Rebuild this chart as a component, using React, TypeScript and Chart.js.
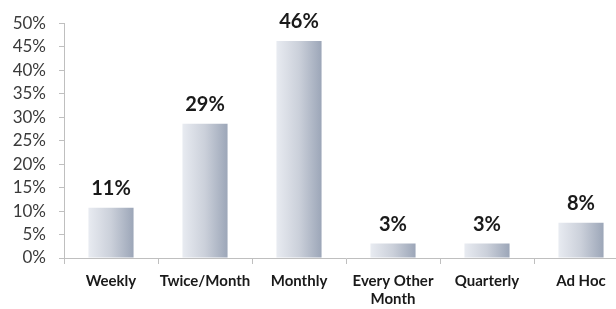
import React, { useEffect, useRef } from "react";
import { Chart, registerables } from "chart.js";

Chart.register(...registerables);

const categories: (string | string[])[] = ["Weekly", "Twice/Month", "Monthly", ["Every Other", "Month"], "Quarterly", "Ad Hoc"];
const values: number[] = [10.7, 28.6, 46.2, 3.1, 3.1, 7.5];
const valueLabels: string[] = ["11%", "29%", "46%", "3%", "3%", "8%"];
const yTicks: number[] = [0, 5, 10, 15, 20, 25, 30, 35, 40, 45, 50];

const BAR_PCT = 0.48;

const labelPlugin = {
  id: "valueLabels",
  afterDatasetsDraw(chart: any) {
    const ctx = chart.ctx;
    const meta = chart.getDatasetMeta(0);
    ctx.save();
    ctx.font = "bold 20px Lato";
    ctx.fillStyle = "#1a1a1a";
    ctx.textAlign = "center";
    ctx.textBaseline = "bottom";
    meta.data.forEach((bar: any, i: number) => {
      ctx.fillText(valueLabels[i], bar.x, bar.y - 9);
    });
    ctx.restore();
  },
};

export default function App() {
  const ref = useRef<HTMLCanvasElement>(null);
  useEffect(() => {
    if (!ref.current) return;
    const chart = new Chart(ref.current, {
      type: "bar",
      data: {
        labels: categories,
        datasets: [
          {
            data: values,
            barPercentage: BAR_PCT,
            categoryPercentage: 1,
            backgroundColor: (c: any) => {
              const ch = c.chart;
              const xs = ch.scales?.x;
              const area = ch.chartArea;
              if (!xs || !area) return "#c4cad6";
              const cx = xs.getPixelForValue(c.dataIndex);
              const hw = (area.width / categories.length) * BAR_PCT / 2;
              const g = ch.ctx.createLinearGradient(cx - hw, 0, cx + hw, 0);
              g.addColorStop(0, "#e8ebf1");
              g.addColorStop(0.5, "#cbd0da");
              g.addColorStop(1, "#9ca6b8");
              return g;
            },
            borderWidth: 0,
          },
        ],
      },
      options: {
        animation: false,
        responsive: false,
        maintainAspectRatio: false,
        layout: { padding: { top: 20, left: 0, right: 0, bottom: 0 } },
        plugins: { legend: { display: false }, tooltip: { enabled: false } },
        scales: {
          x: {
            grid: {
              display: true,
              drawOnChartArea: false,
              drawTicks: true,
              tickLength: 6,
              color: "#bfbfbf",
              offset: true,
            },
            border: { color: "#bfbfbf", width: 1 },
            ticks: {
              color: "#1a1a1a",
              font: { family: "Lato", size: 15, weight: "bold", lineHeight: 1.2 },
              padding: 8,
              maxRotation: 0,
              autoSkip: false,
            },
            afterFit: (s: any) => {
              s.height = 51;
            },
          },
          y: {
            min: 0,
            max: 50,
            afterBuildTicks: (s: any) => {
              s.ticks = yTicks.map((v) => ({ value: v }));
            },
            grid: {
              display: true,
              drawOnChartArea: false,
              drawTicks: true,
              tickLength: 5,
              color: "#bfbfbf",
            },
            border: { color: "#bfbfbf", width: 1 },
            ticks: {
              color: "#3a3a3a",
              font: { family: "Lato", size: 17 },
              padding: 13,
              callback: (v: any) => v + "%",
            },
            afterFit: (s: any) => {
              s.width = 64;
            },
          },
        },
      },
      plugins: [labelPlugin],
    });
    return () => chart.destroy();
  }, []);
  return (
    <div style={{ position: "fixed", left: 0, top: 0, width: 616, height: 309, overflow: "hidden", background: "#fff" }}>
      <canvas ref={ref} width={628} height={309} style={{ display: "block", width: 628, height: 309 }} />
    </div>
  );
}
